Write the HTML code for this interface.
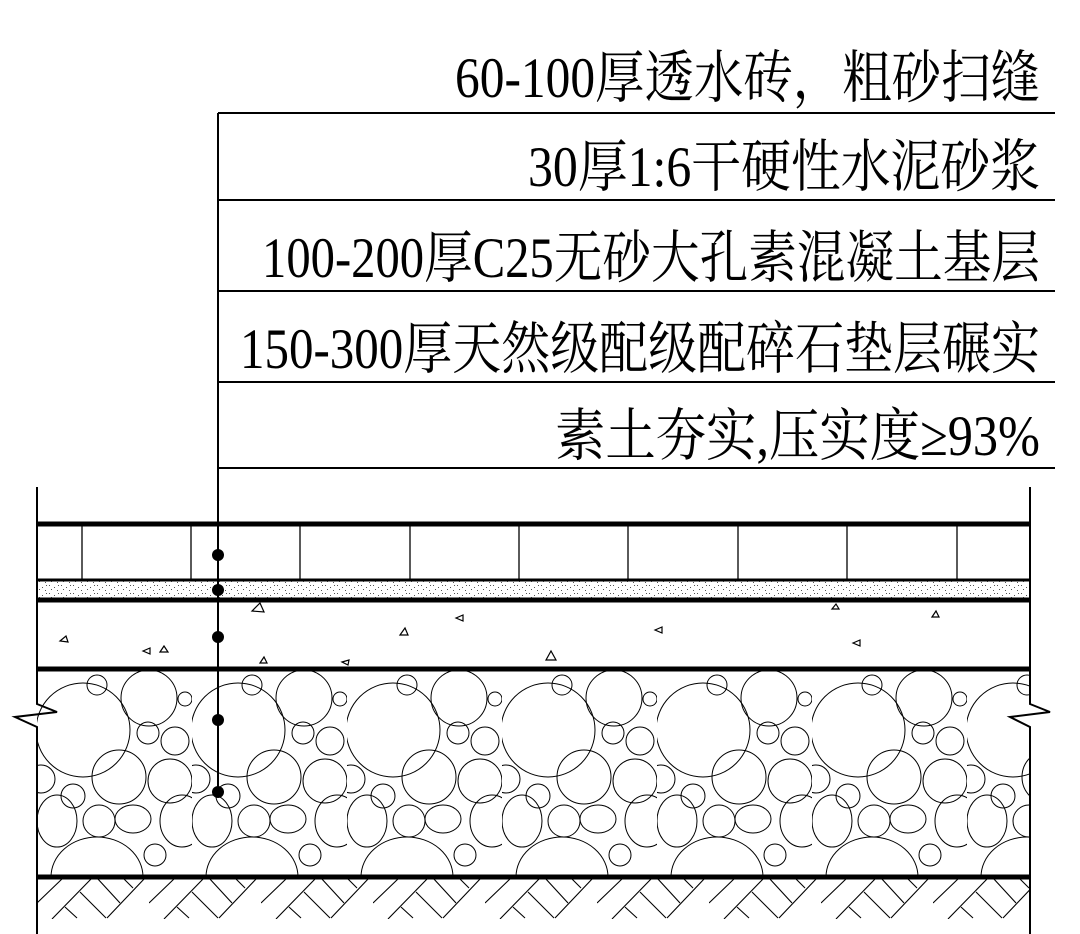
<!DOCTYPE html>
<html><head><meta charset="utf-8"><style>html,body{margin:0;padding:0;background:#fff}svg{display:block}</style></head>
<body>
<svg width="1080" height="934" viewBox="0 0 1080 934" xmlns="http://www.w3.org/2000/svg">
<defs>
<pattern id="grav" x="37" y="671" width="155" height="206" patternUnits="userSpaceOnUse">
<g fill="none" stroke="#000" stroke-width="1">
<circle cx="46" cy="59" r="47"/>
<circle cx="112" cy="27" r="28"/>
<circle cx="111" cy="62" r="11"/>
<circle cx="138" cy="70" r="14"/>
<circle cx="82" cy="106" r="27"/>
<circle cx="133" cy="110" r="22"/>
<circle cx="36" cy="125" r="12"/>
<ellipse cx="20" cy="150" rx="20" ry="26"/>
<ellipse cx="96" cy="148" rx="18" ry="14"/>
<ellipse cx="145" cy="150" rx="22" ry="26"/>
<ellipse cx="60" cy="206" rx="46" ry="40"/>
<circle cx="60" cy="14" r="10"/>
<circle cx="4" cy="108" r="14"/>
<circle cx="62" cy="150" r="16"/>
<circle cx="118" cy="184" r="11"/>
<circle cx="148" cy="28" r="7"/>
</g>
</pattern>
<pattern id="hatch" x="37" y="877" width="112" height="42" patternUnits="userSpaceOnUse">
<g stroke="#000" stroke-width="1.1" fill="none">
<path d="M0 26 L26 1"/><path d="M15 42 L55 1"/><path d="M60 1 L83 26"/><path d="M43 15 L69 41"/>
<path d="M28 30 L40 41"/><path d="M70 41 L108 1"/><path d="M86 1 L96 11"/>
</g>
</pattern>
<pattern id="sand" x="0" y="0" width="12" height="8" patternUnits="userSpaceOnUse">
<g fill="#555"><rect x="1" y="1" width="1" height="1"/><rect x="6" y="3" width="1" height="1"/><rect x="9" y="6" width="1" height="1"/><rect x="3" y="5" width="1" height="1"/><rect x="10" y="1" width="1" height="1"/></g>
</pattern>
</defs>

<g font-family="'Liberation Serif','Noto Serif CJK SC',serif" font-size="57" fill="#000" text-anchor="end">
<text x="1040" y="97" textLength="585" lengthAdjust="spacingAndGlyphs">60-100厚透水砖，粗砂扫缝</text>
<text x="1040" y="186" textLength="512" lengthAdjust="spacingAndGlyphs">30厚1:6干硬性水泥砂浆</text>
<text x="1040" y="277" textLength="778" lengthAdjust="spacingAndGlyphs">100-200厚C25无砂大孔素混凝土基层</text>
<text x="1040" y="368" textLength="800" lengthAdjust="spacingAndGlyphs">150-300厚天然级配级配碎石垫层碾实</text>
<text x="1040" y="455" textLength="485" lengthAdjust="spacingAndGlyphs">素土夯实,压实度≥93%</text>
</g>

<g stroke="#000" stroke-width="2">
<line x1="218" y1="113" x2="1055" y2="113"/>
<line x1="218" y1="200" x2="1055" y2="200"/>
<line x1="218" y1="291" x2="1055" y2="291"/>
<line x1="218" y1="382" x2="1055" y2="382"/>
<line x1="218" y1="468" x2="1055" y2="468"/>
</g>

<rect x="37" y="580" width="993" height="20" fill="url(#sand)"/>
<rect x="37" y="671" width="993" height="206" fill="url(#grav)"/>
<rect x="37" y="877" width="993" height="42" fill="url(#hatch)"/>

<g stroke="#000" stroke-width="1.3">
<line x1="82" y1="524" x2="82" y2="580"/><line x1="191" y1="524" x2="191" y2="580"/>
<line x1="300" y1="524" x2="300" y2="580"/><line x1="410" y1="524" x2="410" y2="580"/>
<line x1="519" y1="524" x2="519" y2="580"/><line x1="628" y1="524" x2="628" y2="580"/>
<line x1="738" y1="524" x2="738" y2="580"/><line x1="847" y1="524" x2="847" y2="580"/>
<line x1="957" y1="524" x2="957" y2="580"/>
</g>

<g fill="none" stroke="#000" stroke-width="1.2">
<path d="M60 641 l6 -5 l2 6z"/><path d="M143 651 l7 -3 l0 6z"/><path d="M160 652 l4 -6 l4 6z"/>
<path d="M252 611 l8 -8 l4 9z"/><path d="M260 663 l4 -6 l3 6z"/><path d="M342 662 l7 -2 l-1 5z"/>
<path d="M400 635 l5 -7 l3 7z"/><path d="M456 618 l7 -3 l0 6z"/><path d="M546 660 l5 -9 l5 9z"/>
<path d="M655 630 l7 -3 l0 6z"/><path d="M832 609 l4 -5 l3 5z"/><path d="M853 643 l7 -3 l0 6z"/>
<path d="M932 617 l4 -6 l3 6z"/>
</g>

<g stroke="#000" stroke-width="5">
<line x1="37" y1="524" x2="1030" y2="524"/>
<line x1="37" y1="600" x2="1030" y2="600"/>
<line x1="37" y1="669" x2="1030" y2="669"/>
<line x1="37" y1="877" x2="1030" y2="877"/>
</g>
<line x1="37" y1="580" x2="1030" y2="580" stroke="#000" stroke-width="3"/>

<g stroke="#000" stroke-width="2" fill="none">
<path d="M37 487 V704 L57 712 L15 717 L37 727 V934"/>
<path d="M1030 487 V704 L1050 712 L1010 717 L1030 727 V934"/>
<line x1="218" y1="113" x2="218" y2="791"/>
</g>
<g fill="#000">
<circle cx="218" cy="555" r="6"/><circle cx="218" cy="590" r="6"/><circle cx="218" cy="637" r="6"/>
<circle cx="218" cy="720" r="6"/><circle cx="218" cy="792" r="6"/>
</g>
</svg>
</body></html>
